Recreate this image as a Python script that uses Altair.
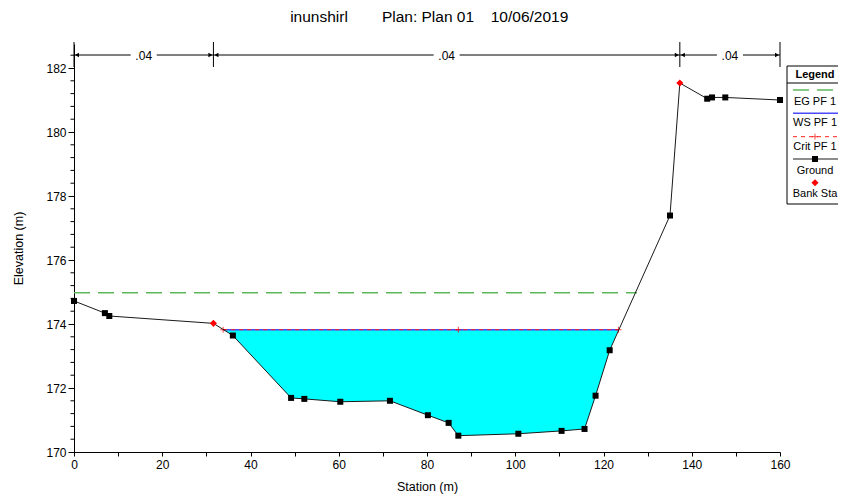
import altair as alt
import pandas as pd
import numpy as np

FONT = "Liberation Sans"

# ---- data ----
station = [0.0, 7.0, 8.0, 31.6, 36.0, 49.2, 52.2, 60.35, 71.6, 80.2, 84.9, 87.1,
           100.7, 110.5, 115.7, 118.2, 121.4, 135.07, 137.3, 143.5, 144.6, 147.6, 160.0]
elevation = [174.72, 174.34, 174.25, 174.02, 173.64, 171.69, 171.66, 171.57, 171.60,
             171.15, 170.91, 170.51, 170.57, 170.66, 170.72, 171.76, 173.18, 177.39,
             181.53, 181.04, 181.08, 181.08, 181.00]
bank_sta = [31.6, 137.3]
bank_elev = [174.02, 181.53]
ws_elev = 173.82
ws_edges = [33.8, 123.4]
eg_elev = 174.98
eg_sta = [0.0, 127.6]
crit_sta = [33.8, 87.1, 123.4]
n_edges = [0.0, 31.6, 137.3, 160.0]
n_values = [".04", ".04", ".04"]
title_parts = ["inunshirl", "Plan: Plan 01", "10/06/2019"]
legend_title = "Legend"
legend_labels = ["EG PF 1", "WS PF 1", "Crit PF 1", "Ground", "Bank Sta"]
y_major = [170, 172, 174, 176, 178, 180, 182]
x_ticks = list(range(0, 161, 10))

# ---- tables ----
ground_df = pd.DataFrame({"sta": station, "elev": elevation})
inside = ground_df[(ground_df.sta > ws_edges[0]) & (ground_df.sta < ws_edges[1])]
water_df = pd.concat([
    pd.DataFrame({"sta": [ws_edges[0]], "elev": [ws_elev]}),
    inside,
    pd.DataFrame({"sta": [ws_edges[1]], "elev": [ws_elev]}),
]).reset_index(drop=True)
water_df["ws"] = ws_elev
ws_df = pd.DataFrame({"sta": ws_edges, "elev": [ws_elev, ws_elev]})
crit_df = pd.DataFrame({"sta": crit_sta, "elev": [ws_elev] * len(crit_sta)})
eg_df = pd.DataFrame({"sta": eg_sta, "elev": [eg_elev, eg_elev]})
bank_df = pd.DataFrame({"sta": bank_sta, "elev": bank_elev})
square_df = ground_df[~ground_df.sta.isin(bank_sta)]
n_df = pd.DataFrame({"left": n_edges[:-1], "right": n_edges[1:], "label": n_values})
n_df["mid"] = (n_df.left + n_df.right) / 2
edge_df = pd.DataFrame({"sta": n_edges})
minor_df = pd.DataFrame({"v": [v for v in np.round(np.arange(170, 182.5, 0.4), 2)
                               if abs(v / 2 - round(v / 2)) > 1e-6]})
one = pd.DataFrame({"a": [0]})

xsc = alt.Scale(domain=[0, 160], nice=False, zero=False)
ysc = alt.Scale(domain=[170, 182.75], nice=False, zero=False)

xaxis = alt.Axis(values=x_ticks, labelExpr="datum.value % 20 == 0 ? datum.label : ''",
                 tickSize=4, labelPadding=3, labelFlush=False, labelOverlap=False,
                 title="Station (m)", titleX=353, titleY=34.5, titleBaseline="middle",
                 grid=False)
yaxis = alt.Axis(values=y_major, tickSize=6, labelPadding=2, labelFlush=False,
                 labelOverlap=False, title="Elevation (m)", titleX=-56, titleY=204,
                 titleBaseline="middle", titleAlign="center", grid=False)


def X(f):
    return alt.X(f, type="quantitative", scale=xsc, axis=xaxis)


def Y(f):
    return alt.Y(f, type="quantitative", scale=ysc, axis=yaxis)


water = alt.Chart(water_df).mark_area(color="#00FFFF", opacity=1).encode(
    x=X("sta"), y=Y("elev"), y2="ws")
eg = alt.Chart(eg_df).mark_line(color="#5cb85c", strokeWidth=1.5, strokeDash=[16, 8]).encode(
    x=X("sta"), y=Y("elev"))
ws = alt.Chart(ws_df).mark_line(color="#4a4aff", strokeWidth=1.5).encode(
    x=X("sta"), y=Y("elev"))
crit = alt.Chart(ws_df).mark_line(color="#ff2020", strokeWidth=1, strokeDash=[4, 4]).encode(
    x=X("sta"), y=Y("elev"))
crit_pts = alt.Chart(crit_df).mark_point(shape="M -1 0 L 1 0 M 0 -1 L 0 1", size=36,
                                          color="#ff0000", filled=False, strokeWidth=1).encode(
    x=X("sta"), y=Y("elev"))
ground = alt.Chart(ground_df).mark_line(color="#1a1a1a", strokeWidth=1).encode(
    x=X("sta"), y=Y("elev"), order="sta:Q")
squares = alt.Chart(square_df).mark_square(size=36, color="black", opacity=1).encode(
    x=X("sta"), y=Y("elev"))
banks = alt.Chart(bank_df).mark_point(shape="diamond", size=50, filled=True,
                                       color="#ff0000", opacity=1).encode(
    x=X("sta"), y=Y("elev"))
minor = alt.Chart(minor_df).mark_rule(color="black", strokeWidth=1).encode(
    y=Y("v"), x=alt.value(-3.5), x2=alt.value(0))

# Manning's n annotation band
n_vert = alt.Chart(edge_df).mark_rule(color="black", strokeWidth=1).encode(
    x=X("sta"), y=alt.value(-2), y2=alt.value(23))
n_left = alt.Chart(n_df).mark_rule(color="black", strokeWidth=1, x2Offset=-13).encode(
    x=X("left"), x2="mid", y=alt.value(11))
n_right = alt.Chart(n_df).mark_rule(color="black", strokeWidth=1, xOffset=13).encode(
    x=X("mid"), x2="right", y=alt.value(11))
n_arrow_l = alt.Chart(n_df).mark_point(shape="triangle-left", size=22, filled=True,
                                        color="black", opacity=1, xOffset=3).encode(
    x=X("left"), y=alt.value(11))
n_arrow_r = alt.Chart(n_df).mark_point(shape="triangle-right", size=22, filled=True,
                                        color="black", opacity=1, xOffset=-3).encode(
    x=X("right"), y=alt.value(11))
n_text = alt.Chart(n_df).mark_text(font=FONT, fontSize=12, color="black",
                                   baseline="middle").encode(
    x=X("mid"), y=alt.value(11.5), text="label:N")

# title
title_x = [245, 354, 455.5]
title_layers = [
    alt.Chart(one).mark_text(text=t, font=FONT, fontSize=15.5, color="black",
                             baseline="middle").encode(x=alt.value(px), y=alt.value(-27))
    for t, px in zip(title_parts, title_x)
]

# legend (drawn in the right margin)
LX0, LX1, LY0, LY1 = 713, 800, 22, 160
LC = 741


def seg(y, color, dash=None, width=1.0):
    kw = dict(color=color, strokeWidth=width)
    if dash:
        kw["strokeDash"] = dash
    return alt.Chart(one).mark_rule(**kw).encode(
        x=alt.value(719), x2=alt.value(800), y=alt.value(y))


def lab(t, y, bold=False):
    return alt.Chart(one).mark_text(text=t, font=FONT, fontSize=11, color="black",
                                    baseline="middle",
                                    fontWeight="bold" if bold else "normal").encode(
        x=alt.value(LC), y=alt.value(y))


legend_layers = [
    alt.Chart(one).mark_rect(fill="white", stroke="black", strokeWidth=1).encode(
        x=alt.value(LX0), x2=alt.value(LX1), y=alt.value(LY0), y2=alt.value(LY1)),
    alt.Chart(one).mark_rule(color="black", strokeWidth=1).encode(
        x=alt.value(LX0), x2=alt.value(LX1), y=alt.value(39)),
    lab(legend_title, 31, bold=True),
    seg(46, "#5cb85c", [16, 8], 1.5), lab(legend_labels[0], 57.7),
    seg(69.3, "#4a4aff", None, 1.5), lab(legend_labels[1], 79.3),
    seg(92.7, "#ff2020", [4, 4], 1),
    alt.Chart(one).mark_point(shape="M -1 0 L 1 0 M 0 -1 L 0 1", size=36, color="#ff0000",
                              filled=False, strokeWidth=1).encode(
        x=alt.value(LC), y=alt.value(92.7)),
    lab(legend_labels[2], 103.3),
    seg(115, "#1a1a1a", None, 1),
    alt.Chart(one).mark_square(size=36, color="black", opacity=1).encode(
        x=alt.value(LC), y=alt.value(115)),
    lab(legend_labels[3], 126.7),
    alt.Chart(one).mark_point(shape="diamond", size=50, filled=True, color="#ff0000",
                              opacity=1).encode(x=alt.value(LC), y=alt.value(138.7)),
    lab(legend_labels[4], 150),
]

chart = alt.layer(
    water, eg, ws, crit, crit_pts, ground, squares, banks, minor,
    n_vert, n_left, n_right, n_arrow_l, n_arrow_r, n_text,
    *title_layers, *legend_layers,
).properties(
    width=706, height=408,
    autosize=alt.AutoSizeParams(type="none"),
    padding={"left": 66, "top": 36, "right": 58, "bottom": 43},
).configure_view(stroke=None).configure_axis(
    labelFont=FONT, labelFontSize=12, labelColor="black",
    titleFont=FONT, titleFontSize=12.5, titleFontWeight="normal", titleColor="black",
    domainColor="black", tickColor="black", domainWidth=1, tickWidth=1,
)

chart.save("out.html", embed_options={"renderer": "svg", "actions": False})
